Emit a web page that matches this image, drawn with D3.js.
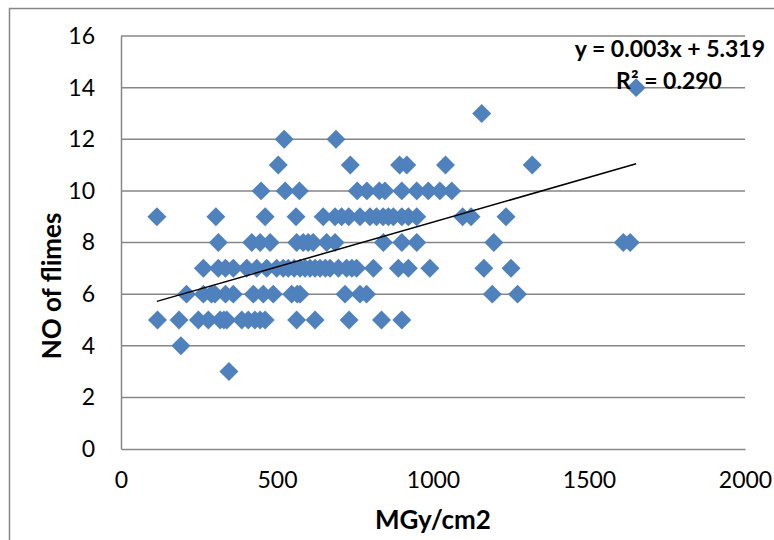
<!DOCTYPE html>
<html>
<head>
<meta charset="utf-8">
<script src="https://cdn.jsdelivr.net/npm/d3@7/dist/d3.min.js"></script>
<style>
  html, body { margin: 0; padding: 0; background: #fff; }
  svg { display: block; }
</style>
</head>
<body>
<svg id="chart" width="774" height="540"></svg>
<script>
// ---- data ----
const row3  = [346];
const row4  = [192];
const row5  = [117, 186, 248, 280, 318, 330, 339, 387, 408, 429, 446, 462, 563, 622, 731, 835, 900];
const row6  = [210, 264, 290, 301, 335, 360, 424, 456, 488, 547, 565, 574, 718, 766, 787, 1190, 1271];
const row7  = [264, 312, 335, 360, 403, 435, 467, 499, 520, 536, 555, 574, 590, 606, 622, 638, 655, 670, 697, 723, 740, 755, 809, 889, 921, 990, 1163, 1250];
const row8  = [312, 419, 446, 478, 563, 584, 600, 616, 659, 686, 841, 900, 948, 1195, 1610, 1632];
const row9  = [115, 304, 462, 561, 648, 686, 707, 730, 766, 798, 819, 840, 857, 873, 900, 921, 948, 1095, 1122, 1234];
const row10 = [449, 526, 572, 757, 788, 828, 846, 900, 948, 985, 1022, 1060];
const row11 = [504, 735, 893, 916, 1040, 1318];
const row12 = [523, 689];
const row13 = [1156];
const row14 = [1651];

const rowValues = [3, 4, 5, 6, 7, 8, 9, 10, 11, 12, 13, 14];
const rowXs = [row3, row4, row5, row6, row7, row8, row9, row10, row11, row12, row13, row14];

const xTicks = [0, 500, 1000, 1500, 2000];
const yTicks = [0, 2, 4, 6, 8, 10, 12, 14, 16];

const trendSlope = 0.00347;
const trendIntercept = 5.319;
const equationText = "y = 0.003x + 5.319";
const r2Label = "R² = 0.290";
const xTitle = "MGy/cm2";
const yTitle = "NO of flimes";

// build points
const points = [];
rowXs.forEach((xs, i) => xs.forEach(x => points.push({x: x, y: rowValues[i]})));

// ---- layout ----
const svg = d3.select("#chart");
const W = 774, H = 540;
const margin = {left: 121, top: 36, right: W - 745, bottom: H - 449};

const x = d3.scaleLinear().domain([0, 2000]).range([margin.left, W - margin.right]);
const y = d3.scaleLinear().domain([0, 16]).range([H - margin.bottom, margin.top]);

const gridColor = "#868686";
const font = "Lato, 'Open Sans', 'Liberation Sans', sans-serif";

// outer chart border
svg.append("rect")
  .attr("x", 9.5).attr("y", 8.5)
  .attr("width", 900).attr("height", 700)
  .attr("fill", "none").attr("stroke", gridColor).attr("stroke-width", 1.5);

// gridlines
svg.append("g").selectAll("line")
  .data(yTicks.filter(t => t !== 0))
  .join("line")
  .attr("x1", x(0)).attr("x2", x(2000))
  .attr("y1", d => y(d)).attr("y2", d => y(d))
  .attr("stroke", gridColor).attr("stroke-width", 1.5);

// y axis
const yAxis = d3.axisLeft(y).tickValues(yTicks).tickSize(0).tickPadding(26).tickFormat(d3.format("d"));
const gy = svg.append("g").attr("transform", `translate(${x(0)},0)`).call(yAxis);
gy.select(".domain").attr("stroke", gridColor).attr("stroke-width", 1.5);
gy.selectAll(".tick text").attr("font-family", font).attr("font-size", 23).attr("fill", "#000");

// x axis
const xAxis = d3.axisBottom(x).tickValues(xTicks).tickSize(0).tickPadding(23).tickFormat(d3.format("d"));
const gx = svg.append("g").attr("transform", `translate(0,${y(0)})`).call(xAxis);
gx.select(".domain").attr("stroke", gridColor).attr("stroke-width", 1.5);
gx.selectAll(".tick text").attr("font-family", font).attr("font-size", 23).attr("fill", "#000");

// points
const sym = d3.symbol().type(d3.symbolSquare).size(180);
svg.append("g").selectAll("path")
  .data(points)
  .join("path")
  .attr("d", sym)
  .attr("transform", d => `translate(${x(d.x)},${y(d.y)}) rotate(45)`)
  .attr("fill", "#4F81BD");

// trend line
const xMin = d3.min(points, d => d.x), xMax = d3.max(points, d => d.x);
svg.append("line")
  .attr("x1", x(xMin)).attr("y1", y(trendSlope * xMin + trendIntercept))
  .attr("x2", x(xMax)).attr("y2", y(trendSlope * xMax + trendIntercept))
  .attr("stroke", "#000").attr("stroke-width", 1.5);

// equation labels
svg.append("text")
  .attr("x", 765).attr("y", 57)
  .attr("text-anchor", "end")
  .attr("font-family", font).attr("font-weight", "bold").attr("font-size", 23)
  .text(equationText);
svg.append("text")
  .attr("x", 669).attr("y", 89)
  .attr("text-anchor", "middle")
  .attr("font-family", font).attr("font-weight", "bold").attr("font-size", 23)
  .text(r2Label);

// axis titles
svg.append("text")
  .attr("x", x(1000)).attr("y", 529)
  .attr("text-anchor", "middle")
  .attr("font-family", font).attr("font-weight", "bold").attr("font-size", 26)
  .text(xTitle);
svg.append("text")
  .attr("transform", `translate(61,286) rotate(-90)`)
  .attr("text-anchor", "middle")
  .attr("font-family", font).attr("font-weight", "bold").attr("font-size", 26)
  .text(yTitle);
</script>
</body>
</html>
